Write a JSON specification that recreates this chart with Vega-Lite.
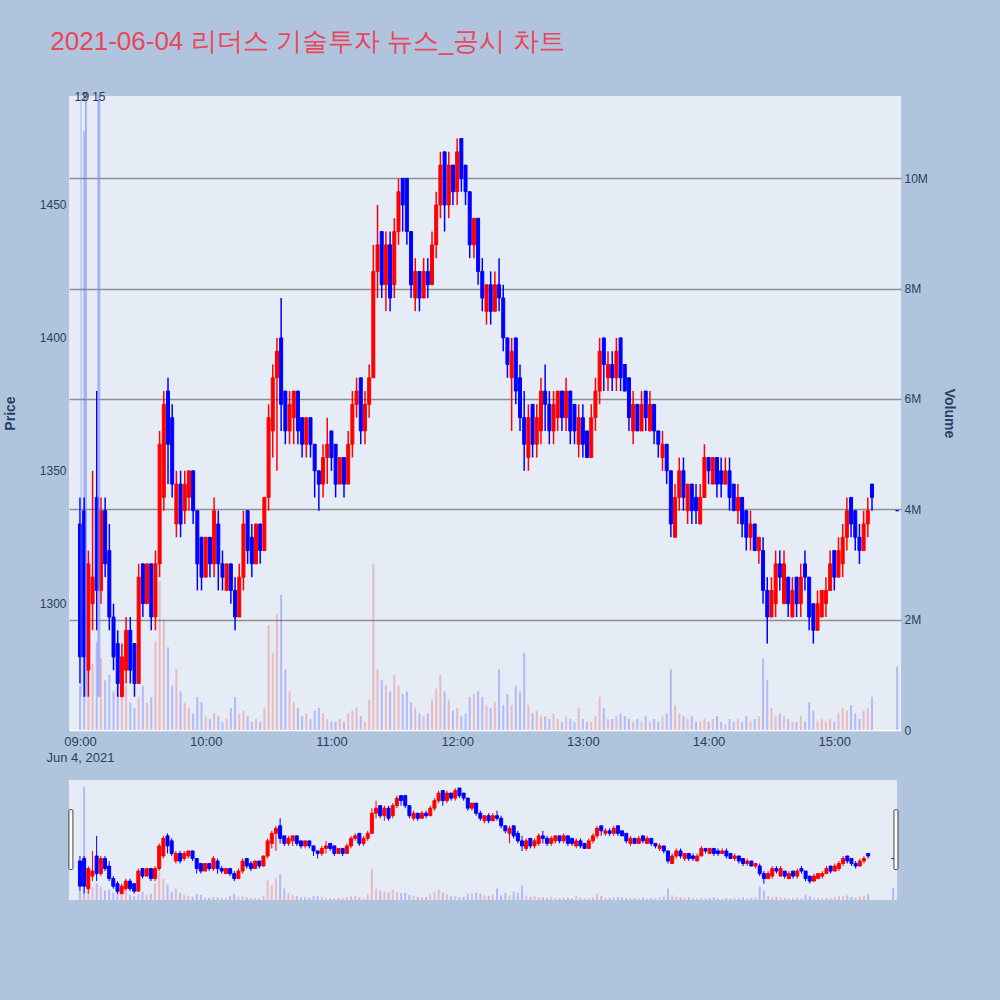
{
  "$schema": "https://vega.github.io/schema/vega-lite/v6.json",
  "background": "#B0C4DE",
  "padding": {"left": 3, "top": 29, "right": 45, "bottom": 100},
  "title": {
    "text": "2021-06-04 리더스 기술투자 뉴스_공시 차트",
    "anchor": "start",
    "fontSize": 26,
    "fontWeight": "normal",
    "color": "#E9465A",
    "dx": 47,
    "offset": 36
  },
  "config": {
    "view": {"fill": "#E5ECF6", "stroke": null},
    "axis": {
      "labelFontSize": 12,
      "labelColor": "#2a3f5f",
      "titleFontSize": 14,
      "titleColor": "#2a3f5f",
      "titleFontWeight": "bold",
      "domain": false,
      "ticks": false
    }
  },
  "datasets": {
    "candles": [
      {"t":"2021-06-04T09:00","o":1330,"h":1340,"l":1270,"c":1280,"v":800000},
      {"t":"2021-06-04T09:02","o":1335,"h":1340,"l":1265,"c":1280,"v":10850000},
      {"t":"2021-06-04T09:04","o":1275,"h":1320,"l":1265,"c":1315,"v":1500000},
      {"t":"2021-06-04T09:06","o":1300,"h":1350,"l":1290,"c":1310,"v":1200000},
      {"t":"2021-06-04T09:08","o":1340,"h":1380,"l":1290,"c":1305,"v":1600000},
      {"t":"2021-06-04T09:10","o":1305,"h":1340,"l":1300,"c":1335,"v":1300000},
      {"t":"2021-06-04T09:12","o":1335,"h":1340,"l":1310,"c":1315,"v":900000},
      {"t":"2021-06-04T09:14","o":1320,"h":1330,"l":1290,"c":1295,"v":1000000},
      {"t":"2021-06-04T09:16","o":1295,"h":1300,"l":1275,"c":1280,"v":700000},
      {"t":"2021-06-04T09:18","o":1285,"h":1290,"l":1265,"c":1270,"v":900000},
      {"t":"2021-06-04T09:20","o":1265,"h":1285,"l":1265,"c":1280,"v":600000},
      {"t":"2021-06-04T09:22","o":1275,"h":1295,"l":1270,"c":1290,"v":800000},
      {"t":"2021-06-04T09:24","o":1290,"h":1295,"l":1270,"c":1275,"v":500000},
      {"t":"2021-06-04T09:26","o":1285,"h":1285,"l":1265,"c":1270,"v":400000},
      {"t":"2021-06-04T09:28","o":1270,"h":1315,"l":1270,"c":1310,"v":600000},
      {"t":"2021-06-04T09:30","o":1315,"h":1315,"l":1295,"c":1300,"v":800000},
      {"t":"2021-06-04T09:32","o":1300,"h":1315,"l":1300,"c":1315,"v":500000},
      {"t":"2021-06-04T09:34","o":1315,"h":1315,"l":1290,"c":1295,"v":600000},
      {"t":"2021-06-04T09:36","o":1295,"h":1320,"l":1290,"c":1315,"v":1600000},
      {"t":"2021-06-04T09:38","o":1315,"h":1365,"l":1310,"c":1360,"v":2700000},
      {"t":"2021-06-04T09:40","o":1340,"h":1380,"l":1335,"c":1375,"v":2000000},
      {"t":"2021-06-04T09:42","o":1380,"h":1385,"l":1345,"c":1360,"v":1500000},
      {"t":"2021-06-04T09:44","o":1370,"h":1375,"l":1340,"c":1345,"v":800000},
      {"t":"2021-06-04T09:46","o":1330,"h":1350,"l":1325,"c":1345,"v":1100000},
      {"t":"2021-06-04T09:48","o":1345,"h":1350,"l":1325,"c":1330,"v":700000},
      {"t":"2021-06-04T09:50","o":1335,"h":1350,"l":1330,"c":1345,"v":500000},
      {"t":"2021-06-04T09:52","o":1340,"h":1350,"l":1335,"c":1350,"v":400000},
      {"t":"2021-06-04T09:54","o":1350,"h":1350,"l":1330,"c":1335,"v":300000},
      {"t":"2021-06-04T09:56","o":1335,"h":1335,"l":1305,"c":1315,"v":600000},
      {"t":"2021-06-04T09:58","o":1325,"h":1325,"l":1305,"c":1310,"v":500000},
      {"t":"2021-06-04T10:00","o":1310,"h":1325,"l":1310,"c":1325,"v":250000},
      {"t":"2021-06-04T10:02","o":1325,"h":1325,"l":1310,"c":1315,"v":200000},
      {"t":"2021-06-04T10:04","o":1315,"h":1340,"l":1310,"c":1335,"v":300000},
      {"t":"2021-06-04T10:06","o":1330,"h":1335,"l":1305,"c":1315,"v":250000},
      {"t":"2021-06-04T10:08","o":1315,"h":1320,"l":1305,"c":1310,"v":150000},
      {"t":"2021-06-04T10:10","o":1305,"h":1315,"l":1305,"c":1315,"v":200000},
      {"t":"2021-06-04T10:12","o":1315,"h":1315,"l":1300,"c":1305,"v":400000},
      {"t":"2021-06-04T10:14","o":1305,"h":1310,"l":1290,"c":1295,"v":600000},
      {"t":"2021-06-04T10:16","o":1295,"h":1315,"l":1295,"c":1310,"v":300000},
      {"t":"2021-06-04T10:18","o":1310,"h":1335,"l":1305,"c":1330,"v":350000},
      {"t":"2021-06-04T10:20","o":1335,"h":1335,"l":1315,"c":1320,"v":250000},
      {"t":"2021-06-04T10:22","o":1325,"h":1330,"l":1310,"c":1315,"v":150000},
      {"t":"2021-06-04T10:24","o":1315,"h":1330,"l":1315,"c":1330,"v":200000},
      {"t":"2021-06-04T10:26","o":1330,"h":1330,"l":1315,"c":1320,"v":150000},
      {"t":"2021-06-04T10:28","o":1320,"h":1340,"l":1320,"c":1340,"v":400000},
      {"t":"2021-06-04T10:30","o":1340,"h":1375,"l":1335,"c":1370,"v":1900000},
      {"t":"2021-06-04T10:32","o":1365,"h":1390,"l":1355,"c":1385,"v":1400000},
      {"t":"2021-06-04T10:34","o":1385,"h":1400,"l":1350,"c":1395,"v":2100000},
      {"t":"2021-06-04T10:36","o":1400,"h":1415,"l":1365,"c":1375,"v":2450000},
      {"t":"2021-06-04T10:38","o":1380,"h":1380,"l":1360,"c":1365,"v":1100000},
      {"t":"2021-06-04T10:40","o":1365,"h":1380,"l":1360,"c":1375,"v":700000},
      {"t":"2021-06-04T10:42","o":1370,"h":1380,"l":1360,"c":1380,"v":500000},
      {"t":"2021-06-04T10:44","o":1380,"h":1380,"l":1360,"c":1365,"v":400000},
      {"t":"2021-06-04T10:46","o":1370,"h":1370,"l":1355,"c":1360,"v":250000},
      {"t":"2021-06-04T10:48","o":1360,"h":1370,"l":1355,"c":1370,"v":300000},
      {"t":"2021-06-04T10:50","o":1370,"h":1370,"l":1355,"c":1360,"v":200000},
      {"t":"2021-06-04T10:52","o":1360,"h":1360,"l":1340,"c":1350,"v":350000},
      {"t":"2021-06-04T10:54","o":1350,"h":1350,"l":1335,"c":1345,"v":400000},
      {"t":"2021-06-04T10:56","o":1345,"h":1360,"l":1340,"c":1355,"v":300000},
      {"t":"2021-06-04T10:58","o":1355,"h":1370,"l":1345,"c":1360,"v":200000},
      {"t":"2021-06-04T11:00","o":1365,"h":1365,"l":1350,"c":1355,"v":150000},
      {"t":"2021-06-04T11:02","o":1360,"h":1360,"l":1340,"c":1345,"v":150000},
      {"t":"2021-06-04T11:04","o":1345,"h":1355,"l":1345,"c":1355,"v":200000},
      {"t":"2021-06-04T11:06","o":1355,"h":1355,"l":1340,"c":1345,"v":150000},
      {"t":"2021-06-04T11:08","o":1345,"h":1365,"l":1345,"c":1360,"v":300000},
      {"t":"2021-06-04T11:10","o":1360,"h":1380,"l":1355,"c":1375,"v":350000},
      {"t":"2021-06-04T11:12","o":1375,"h":1385,"l":1370,"c":1380,"v":400000},
      {"t":"2021-06-04T11:14","o":1385,"h":1385,"l":1360,"c":1365,"v":250000},
      {"t":"2021-06-04T11:16","o":1365,"h":1380,"l":1360,"c":1375,"v":150000},
      {"t":"2021-06-04T11:18","o":1375,"h":1390,"l":1370,"c":1385,"v":550000},
      {"t":"2021-06-04T11:20","o":1385,"h":1435,"l":1385,"c":1425,"v":3000000},
      {"t":"2021-06-04T11:22","o":1425,"h":1450,"l":1415,"c":1435,"v":1100000},
      {"t":"2021-06-04T11:24","o":1440,"h":1440,"l":1415,"c":1420,"v":900000},
      {"t":"2021-06-04T11:26","o":1420,"h":1440,"l":1410,"c":1435,"v":800000},
      {"t":"2021-06-04T11:28","o":1435,"h":1440,"l":1410,"c":1415,"v":700000},
      {"t":"2021-06-04T11:30","o":1420,"h":1445,"l":1415,"c":1440,"v":1000000},
      {"t":"2021-06-04T11:32","o":1440,"h":1460,"l":1435,"c":1455,"v":800000},
      {"t":"2021-06-04T11:34","o":1460,"h":1460,"l":1440,"c":1450,"v":650000},
      {"t":"2021-06-04T11:36","o":1460,"h":1460,"l":1435,"c":1440,"v":700000},
      {"t":"2021-06-04T11:38","o":1440,"h":1440,"l":1415,"c":1420,"v":500000},
      {"t":"2021-06-04T11:40","o":1415,"h":1430,"l":1410,"c":1425,"v":400000},
      {"t":"2021-06-04T11:42","o":1425,"h":1425,"l":1410,"c":1415,"v":300000},
      {"t":"2021-06-04T11:44","o":1415,"h":1430,"l":1415,"c":1425,"v":250000},
      {"t":"2021-06-04T11:46","o":1425,"h":1430,"l":1415,"c":1420,"v":300000},
      {"t":"2021-06-04T11:48","o":1420,"h":1440,"l":1420,"c":1435,"v":550000},
      {"t":"2021-06-04T11:50","o":1435,"h":1455,"l":1430,"c":1450,"v":750000},
      {"t":"2021-06-04T11:52","o":1450,"h":1470,"l":1445,"c":1465,"v":1000000},
      {"t":"2021-06-04T11:54","o":1470,"h":1470,"l":1440,"c":1450,"v":700000},
      {"t":"2021-06-04T11:56","o":1450,"h":1470,"l":1445,"c":1465,"v":550000},
      {"t":"2021-06-04T11:58","o":1465,"h":1465,"l":1450,"c":1455,"v":350000},
      {"t":"2021-06-04T12:00","o":1455,"h":1475,"l":1450,"c":1470,"v":400000},
      {"t":"2021-06-04T12:02","o":1475,"h":1475,"l":1455,"c":1460,"v":250000},
      {"t":"2021-06-04T12:04","o":1465,"h":1465,"l":1450,"c":1455,"v":300000},
      {"t":"2021-06-04T12:06","o":1455,"h":1455,"l":1430,"c":1435,"v":600000},
      {"t":"2021-06-04T12:08","o":1435,"h":1445,"l":1430,"c":1445,"v":650000},
      {"t":"2021-06-04T12:10","o":1445,"h":1445,"l":1420,"c":1425,"v":700000},
      {"t":"2021-06-04T12:12","o":1425,"h":1430,"l":1410,"c":1415,"v":600000},
      {"t":"2021-06-04T12:14","o":1410,"h":1420,"l":1405,"c":1420,"v":450000},
      {"t":"2021-06-04T12:16","o":1420,"h":1425,"l":1405,"c":1410,"v":400000},
      {"t":"2021-06-04T12:18","o":1410,"h":1425,"l":1410,"c":1420,"v":500000},
      {"t":"2021-06-04T12:20","o":1420,"h":1430,"l":1410,"c":1415,"v":1100000},
      {"t":"2021-06-04T12:22","o":1415,"h":1420,"l":1395,"c":1400,"v":450000},
      {"t":"2021-06-04T12:24","o":1400,"h":1400,"l":1385,"c":1390,"v":650000},
      {"t":"2021-06-04T12:26","o":1385,"h":1400,"l":1365,"c":1395,"v":450000},
      {"t":"2021-06-04T12:28","o":1400,"h":1400,"l":1375,"c":1380,"v":800000},
      {"t":"2021-06-04T12:30","o":1385,"h":1390,"l":1365,"c":1370,"v":700000},
      {"t":"2021-06-04T12:32","o":1370,"h":1380,"l":1350,"c":1360,"v":1400000},
      {"t":"2021-06-04T12:34","o":1355,"h":1375,"l":1350,"c":1370,"v":450000},
      {"t":"2021-06-04T12:36","o":1375,"h":1375,"l":1355,"c":1360,"v":300000},
      {"t":"2021-06-04T12:38","o":1360,"h":1375,"l":1355,"c":1370,"v":350000},
      {"t":"2021-06-04T12:40","o":1365,"h":1385,"l":1360,"c":1380,"v":250000},
      {"t":"2021-06-04T12:42","o":1380,"h":1390,"l":1365,"c":1375,"v":250000},
      {"t":"2021-06-04T12:44","o":1375,"h":1380,"l":1360,"c":1365,"v":200000},
      {"t":"2021-06-04T12:46","o":1365,"h":1380,"l":1360,"c":1375,"v":300000},
      {"t":"2021-06-04T12:48","o":1370,"h":1380,"l":1365,"c":1380,"v":200000},
      {"t":"2021-06-04T12:50","o":1380,"h":1380,"l":1365,"c":1370,"v":150000},
      {"t":"2021-06-04T12:52","o":1370,"h":1385,"l":1365,"c":1380,"v":250000},
      {"t":"2021-06-04T12:54","o":1380,"h":1380,"l":1360,"c":1365,"v":200000},
      {"t":"2021-06-04T12:56","o":1375,"h":1375,"l":1360,"c":1365,"v":150000},
      {"t":"2021-06-04T12:58","o":1360,"h":1375,"l":1355,"c":1370,"v":400000},
      {"t":"2021-06-04T13:00","o":1370,"h":1375,"l":1355,"c":1360,"v":200000},
      {"t":"2021-06-04T13:02","o":1365,"h":1365,"l":1355,"c":1355,"v":150000},
      {"t":"2021-06-04T13:04","o":1355,"h":1375,"l":1355,"c":1370,"v":150000},
      {"t":"2021-06-04T13:06","o":1370,"h":1385,"l":1365,"c":1380,"v":250000},
      {"t":"2021-06-04T13:08","o":1380,"h":1400,"l":1375,"c":1395,"v":600000},
      {"t":"2021-06-04T13:10","o":1400,"h":1400,"l":1380,"c":1390,"v":400000},
      {"t":"2021-06-04T13:12","o":1385,"h":1395,"l":1380,"c":1390,"v":200000},
      {"t":"2021-06-04T13:14","o":1390,"h":1395,"l":1380,"c":1385,"v":200000},
      {"t":"2021-06-04T13:16","o":1385,"h":1400,"l":1380,"c":1395,"v":250000},
      {"t":"2021-06-04T13:18","o":1400,"h":1400,"l":1380,"c":1385,"v":300000},
      {"t":"2021-06-04T13:20","o":1390,"h":1390,"l":1380,"c":1380,"v":250000},
      {"t":"2021-06-04T13:22","o":1385,"h":1385,"l":1365,"c":1370,"v":200000},
      {"t":"2021-06-04T13:24","o":1365,"h":1380,"l":1360,"c":1375,"v":150000},
      {"t":"2021-06-04T13:26","o":1375,"h":1375,"l":1365,"c":1365,"v":200000},
      {"t":"2021-06-04T13:28","o":1365,"h":1380,"l":1365,"c":1375,"v":150000},
      {"t":"2021-06-04T13:30","o":1380,"h":1380,"l":1365,"c":1370,"v":250000},
      {"t":"2021-06-04T13:32","o":1365,"h":1380,"l":1365,"c":1375,"v":150000},
      {"t":"2021-06-04T13:34","o":1375,"h":1375,"l":1360,"c":1365,"v":200000},
      {"t":"2021-06-04T13:36","o":1365,"h":1365,"l":1355,"c":1360,"v":150000},
      {"t":"2021-06-04T13:38","o":1355,"h":1365,"l":1350,"c":1360,"v":250000},
      {"t":"2021-06-04T13:40","o":1360,"h":1360,"l":1345,"c":1350,"v":300000},
      {"t":"2021-06-04T13:42","o":1350,"h":1350,"l":1325,"c":1330,"v":1100000},
      {"t":"2021-06-04T13:44","o":1325,"h":1345,"l":1325,"c":1340,"v":450000},
      {"t":"2021-06-04T13:46","o":1340,"h":1355,"l":1335,"c":1350,"v":300000},
      {"t":"2021-06-04T13:48","o":1350,"h":1355,"l":1335,"c":1340,"v":250000},
      {"t":"2021-06-04T13:50","o":1335,"h":1345,"l":1330,"c":1345,"v":200000},
      {"t":"2021-06-04T13:52","o":1345,"h":1345,"l":1330,"c":1335,"v":250000},
      {"t":"2021-06-04T13:54","o":1340,"h":1345,"l":1330,"c":1335,"v":150000},
      {"t":"2021-06-04T13:56","o":1330,"h":1345,"l":1330,"c":1340,"v":150000},
      {"t":"2021-06-04T13:58","o":1340,"h":1360,"l":1340,"c":1355,"v":200000},
      {"t":"2021-06-04T14:00","o":1355,"h":1355,"l":1345,"c":1350,"v":150000},
      {"t":"2021-06-04T14:02","o":1345,"h":1355,"l":1345,"c":1355,"v":200000},
      {"t":"2021-06-04T14:04","o":1355,"h":1355,"l":1340,"c":1345,"v":250000},
      {"t":"2021-06-04T14:06","o":1350,"h":1355,"l":1340,"c":1345,"v":150000},
      {"t":"2021-06-04T14:08","o":1345,"h":1355,"l":1345,"c":1350,"v":100000},
      {"t":"2021-06-04T14:10","o":1350,"h":1355,"l":1335,"c":1340,"v":200000},
      {"t":"2021-06-04T14:12","o":1345,"h":1345,"l":1335,"c":1335,"v":150000},
      {"t":"2021-06-04T14:14","o":1335,"h":1345,"l":1330,"c":1340,"v":200000},
      {"t":"2021-06-04T14:16","o":1340,"h":1340,"l":1325,"c":1330,"v":150000},
      {"t":"2021-06-04T14:18","o":1335,"h":1335,"l":1320,"c":1325,"v":250000},
      {"t":"2021-06-04T14:20","o":1325,"h":1335,"l":1320,"c":1330,"v":150000},
      {"t":"2021-06-04T14:22","o":1330,"h":1330,"l":1320,"c":1320,"v":200000},
      {"t":"2021-06-04T14:24","o":1320,"h":1325,"l":1315,"c":1325,"v":250000},
      {"t":"2021-06-04T14:26","o":1320,"h":1325,"l":1300,"c":1305,"v":1300000},
      {"t":"2021-06-04T14:28","o":1305,"h":1310,"l":1285,"c":1295,"v":900000},
      {"t":"2021-06-04T14:30","o":1295,"h":1310,"l":1295,"c":1305,"v":400000},
      {"t":"2021-06-04T14:32","o":1300,"h":1320,"l":1295,"c":1315,"v":250000},
      {"t":"2021-06-04T14:34","o":1315,"h":1320,"l":1305,"c":1310,"v":300000},
      {"t":"2021-06-04T14:36","o":1300,"h":1320,"l":1300,"c":1315,"v":250000},
      {"t":"2021-06-04T14:38","o":1310,"h":1310,"l":1295,"c":1300,"v":200000},
      {"t":"2021-06-04T14:40","o":1295,"h":1310,"l":1295,"c":1305,"v":150000},
      {"t":"2021-06-04T14:42","o":1310,"h":1310,"l":1295,"c":1300,"v":150000},
      {"t":"2021-06-04T14:44","o":1300,"h":1315,"l":1295,"c":1310,"v":250000},
      {"t":"2021-06-04T14:46","o":1315,"h":1320,"l":1305,"c":1310,"v":150000},
      {"t":"2021-06-04T14:48","o":1310,"h":1310,"l":1290,"c":1295,"v":500000},
      {"t":"2021-06-04T14:50","o":1300,"h":1300,"l":1285,"c":1290,"v":350000},
      {"t":"2021-06-04T14:52","o":1290,"h":1305,"l":1290,"c":1300,"v":150000},
      {"t":"2021-06-04T14:54","o":1295,"h":1305,"l":1295,"c":1305,"v":200000},
      {"t":"2021-06-04T14:56","o":1300,"h":1310,"l":1295,"c":1305,"v":150000},
      {"t":"2021-06-04T14:58","o":1305,"h":1320,"l":1305,"c":1315,"v":200000},
      {"t":"2021-06-04T15:00","o":1320,"h":1320,"l":1305,"c":1310,"v":150000},
      {"t":"2021-06-04T15:02","o":1310,"h":1325,"l":1310,"c":1320,"v":300000},
      {"t":"2021-06-04T15:04","o":1315,"h":1330,"l":1310,"c":1325,"v":400000},
      {"t":"2021-06-04T15:06","o":1325,"h":1340,"l":1320,"c":1335,"v":350000},
      {"t":"2021-06-04T15:08","o":1340,"h":1340,"l":1325,"c":1330,"v":450000},
      {"t":"2021-06-04T15:10","o":1335,"h":1335,"l":1320,"c":1325,"v":300000},
      {"t":"2021-06-04T15:12","o":1325,"h":1330,"l":1315,"c":1320,"v":200000},
      {"t":"2021-06-04T15:14","o":1320,"h":1335,"l":1320,"c":1330,"v":350000},
      {"t":"2021-06-04T15:16","o":1330,"h":1340,"l":1325,"c":1335,"v":400000},
      {"t":"2021-06-04T15:18","o":1345,"h":1345,"l":1335,"c":1340,"v":600000},
      {"t":"2021-06-04T15:30","o":1335,"h":1335,"l":1335,"c":1335,"v":1150000}
    ],
    "news": [
      {"t":"2021-06-04T09:00:30","label":"12","n":1},
      {"t":"2021-06-04T09:02:50","label":"9","n":2},
      {"t":"2021-06-04T09:09:00","label":"15","n":3}
    ],
    "handles": [
      {"t":"2021-06-04T08:55:40"},
      {"t":"2021-06-04T15:31:20"}
    ]
  },
  "vconcat": [
    {
      "width": 832,
      "height": 634,
      "data": {"name": "candles"},
      "encoding": {
        "x": {
          "field": "t",
          "type": "temporal",
          "title": null,
          "scale": {
            "padding": 0,
            "domain": [
              {"year": 2021, "month": 6, "date": 4, "hours": 8, "minutes": 54, "seconds": 45},
              {"year": 2021, "month": 6, "date": 4, "hours": 15, "minutes": 31, "seconds": 50}
            ]
          },
          "axis": {
            "tickCount": 7,
            "labelExpr": "hours(datum.value) == 9 ? ['09:00', 'Jun 4, 2021'] : timeFormat(datum.value, '%H:%M')",
            "grid": false,
            "labelPadding": 5,
            "labelLineHeight": 16,
            "labelFontSize": 13
          }
        }
      },
      "layer": [
        {
          "mark": {"type": "bar", "width": 2, "opacity": 0.22},
          "encoding": {
            "y": {
              "field": "v",
              "type": "quantitative",
              "title": "Volume",
              "scale": {"domain": [0, 11490000]},
              "axis": {
                "orient": "right",
                "values": [0, 2000000, 4000000, 6000000, 8000000, 10000000],
                "format": "~s",
                "labelExpr": "datum.value === 0 ? '0' : datum.label",
                "gridColor": {"condition": {"test": "datum.value === 0", "value": "#ffffff"}, "value": "#8f8f8f"},
                "gridWidth": 1.5,
                "labelPadding": 3,
                "titlePadding": 14
              }
            },
            "color": {"condition": {"test": "datum.c > datum.o", "value": "#FF0000"}, "value": "#0000FF"}
          }
        },
        {
          "mark": {"type": "rule", "strokeWidth": 1.5},
          "encoding": {
            "y": {
              "field": "l",
              "type": "quantitative",
              "title": "Price",
              "scale": {"domain": [1252.5, 1491]},
              "axis": {
                "orient": "left",
                "values": [1300, 1350, 1400, 1450],
                "format": "d",
                "gridColor": "#ffffff",
                "gridWidth": 1,
                "labelPadding": 3,
                "titlePadding": 22
              }
            },
            "y2": {"field": "h"},
            "color": {"condition": {"test": "datum.c > datum.o", "value": "#FF0000"}, "value": "#0000FF"}
          }
        },
        {
          "mark": {"type": "bar", "width": 3, "strokeWidth": 1},
          "encoding": {
            "y": {"field": "o", "type": "quantitative", "scale": {"domain": [1252.5, 1491]}, "axis": null},
            "y2": {"field": "c"},
            "color": {"condition": {"test": "datum.c > datum.o", "value": "#FF0000"}, "value": "#0000FF"},
            "stroke": {"condition": {"test": "datum.c > datum.o", "value": "#FF0000"}, "value": "#0000FF"}
          }
        },
        {
          "data": {"name": "news"},
          "mark": {"type": "rule", "color": "#7d8cf5", "opacity": 0.6},
          "encoding": {
            "y": {"datum": 1265, "scale": {"domain": [1252.5, 1491]}, "axis": null},
            "y2": {"datum": 1491},
            "strokeWidth": {"field": "n", "type": "quantitative", "scale": {"domain": [1, 3], "range": [1, 3]}, "legend": null}
          }
        },
        {
          "data": {"name": "news"},
          "mark": {"type": "text", "fontSize": 12, "color": "#2a3f5f", "baseline": "middle", "dy": 1},
          "encoding": {
            "y": {"datum": 1491, "scale": {"domain": [1252.5, 1491]}, "axis": null},
            "text": {"field": "label"}
          }
        }
      ],
      "resolve": {"scale": {"y": "independent"}}
    },
    {
      "width": 828,
      "height": 120,
      "data": {"name": "candles"},
      "encoding": {
        "x": {
          "field": "t",
          "type": "temporal",
          "axis": null,
          "scale": {
            "padding": 0,
            "domain": [
              {"year": 2021, "month": 6, "date": 4, "hours": 8, "minutes": 54, "seconds": 45},
              {"year": 2021, "month": 6, "date": 4, "hours": 15, "minutes": 31, "seconds": 50}
            ]
          }
        }
      },
      "layer": [
        {
          "mark": {"type": "bar", "width": 2, "opacity": 0.22},
          "encoding": {
            "y": {"field": "v", "type": "quantitative", "axis": null, "scale": {"domain": [0, 11490000]}},
            "color": {"condition": {"test": "datum.c > datum.o", "value": "#FF0000"}, "value": "#0000FF"}
          }
        },
        {
          "mark": {"type": "rule", "strokeWidth": 1},
          "encoding": {
            "y": {"field": "l", "type": "quantitative", "axis": null, "scale": {"domain": [1252.5, 1491]}},
            "y2": {"field": "h"},
            "color": {"condition": {"test": "datum.c > datum.o", "value": "#FF0000"}, "value": "#0000FF"}
          }
        },
        {
          "mark": {"type": "bar", "width": 3, "strokeWidth": 1},
          "encoding": {
            "y": {"field": "o", "type": "quantitative", "axis": null, "scale": {"domain": [1252.5, 1491]}},
            "y2": {"field": "c"},
            "color": {"condition": {"test": "datum.c > datum.o", "value": "#FF0000"}, "value": "#0000FF"},
            "stroke": {"condition": {"test": "datum.c > datum.o", "value": "#FF0000"}, "value": "#0000FF"}
          }
        },
        {
          "data": {"name": "handles"},
          "mark": {"type": "bar", "width": 4, "fill": "#ffffff", "stroke": "#444444", "strokeWidth": 1, "cornerRadius": 1},
          "encoding": {
            "y": {"datum": 1432, "axis": null, "scale": {"domain": [1252.5, 1491]}},
            "y2": {"datum": 1313}
          }
        }
      ],
      "resolve": {"scale": {"y": "independent"}}
    }
  ],
  "spacing": 16
}
